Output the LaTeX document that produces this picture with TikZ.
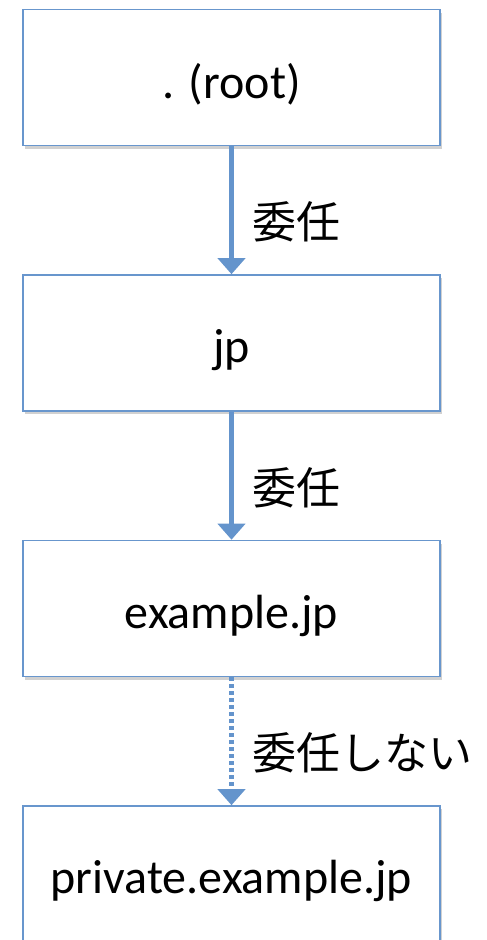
\documentclass[tikz,border=0pt]{standalone}
\usepackage{fontspec}
\setmainfont{Carlito}
\newfontfamily\cjk{Noto Sans CJK JP}
\usetikzlibrary{arrows.meta,shadows}
\definecolor{boxblue}{RGB}{104,150,205}
\definecolor{arrblue}{RGB}{100,148,204}
\newcommand\lowtext[1]{\raisebox{-7pt}[\height][\depth]{#1}}
\tikzset{
  dnsbox/.style={draw=boxblue, line width=1.6pt, fill=white, minimum width=417pt, minimum height=136pt, inner sep=0pt, font=\fontsize{48}{50}\selectfont,
    drop shadow={shadow xshift=2pt, shadow yshift=-3pt, opacity=0.18, fill=black}},
  deleg/.style={draw=arrblue, line width=5pt, -{Triangle[length=16pt,width=27pt]}, shorten >=0pt},
  nodeleg/.style={deleg, dash pattern=on 4pt off 3pt},
  lbl/.style={font=\cjk\fontsize{44}{48}\selectfont, anchor=west, inner sep=0pt}
}
\begin{document}
\begin{tikzpicture}[x=1pt,y=-1pt]
\useasboundingbox (0,0) rectangle (487,940);
\clip (0,0) rectangle (487,940);
\node[dnsbox] (root) at (231.5,77.5) {\lowtext{. (root)}};
\node[dnsbox] (jp) at (231.5,343) {\lowtext{jp}};
\node[dnsbox] (ex) at (231.5,608.5) {\lowtext{example.jp}};
\node[dnsbox] (priv) at (231.5,874) {\lowtext{private.example.jp}};
\draw[deleg] (root.south) -- (jp.north);
\draw[deleg] (jp.south) -- (ex.north);
\draw[nodeleg] (ex.south) -- (priv.north);
\node[lbl] (l1) at (252,222) {委任};
\node[lbl] (l2) at (252,488) {委任};
\node[lbl] (l3) at (252,753) {委任しない};
\end{tikzpicture}
\end{document}
